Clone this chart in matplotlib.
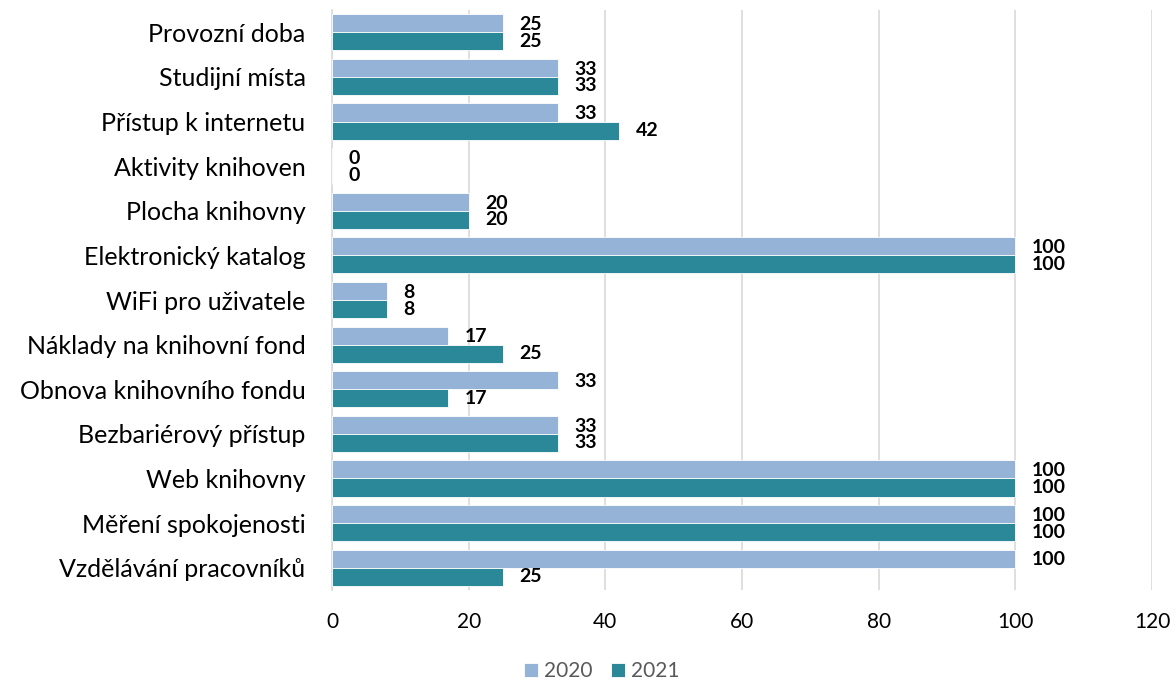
import matplotlib
matplotlib.use("Agg")
import matplotlib.pyplot as plt
import numpy as np

categories = ["Provozní doba", "Studijní místa", "Přístup k internetu", "Aktivity knihoven",
              "Plocha knihovny", "Elektronický katalog", "WiFi pro uživatele",
              "Náklady na knihovní fond", "Obnova knihovního fondu", "Bezbariérový přístup",
              "Web knihovny", "Měření spokojenosti", "Vzdělávání pracovníků"]
values_2020 = [25, 33, 33, 0, 20, 100, 8, 17, 33, 33, 100, 100, 100]
values_2021 = [25, 33, 42, 0, 20, 100, 8, 25, 17, 33, 100, 100, 25]
series_names = ["2020", "2021"]
xticks = [0, 20, 40, 60, 80, 100, 120]

plt.rcParams['font.family'] = ['Lato', 'DejaVu Sans']

fig = plt.figure(figsize=(11.76, 6.82), dpi=100)
ax = fig.add_axes([332/1176, 1-590/682, (1152-332)/1176, (590-10)/682])

y = np.arange(len(categories))
h = 0.405
c20 = "#95B3D7"
c21 = "#2A8899"
b1 = ax.barh(y - h/2, values_2020, height=h, color=c20, edgecolor="white", linewidth=0.6, label=series_names[0], zorder=3)
b2 = ax.barh(y + h/2, values_2021, height=h, color=c21, edgecolor="white", linewidth=0.6, label=series_names[1], zorder=3)

for yi, v in zip(y, values_2020):
    ax.annotate(str(v), (v, yi - h/2 + 0.03), xytext=(12, 0), textcoords="offset points",
                ha="left", va="center", fontsize=14, fontweight="bold", color="black")
for yi, v in zip(y, values_2021):
    ax.annotate(str(v), (v, yi + h/2), xytext=(12, 0), textcoords="offset points",
                ha="left", va="center", fontsize=14, fontweight="bold", color="black")

ax.set_xlim(0, 120)
ax.set_ylim(len(categories) - 0.5, -0.5)
ax.set_xticks(xticks)
ax.set_yticks(y)
ax.set_yticklabels(categories, fontsize=18)
ax.tick_params(axis="y", length=0, pad=19)
ax.tick_params(axis="x", length=0, pad=16, labelsize=15)
ax.grid(axis="x", color="#D9D9D9", linewidth=1.2, zorder=0)
for s in ["top", "right", "bottom"]:
    ax.spines[s].set_visible(False)
ax.spines["left"].set_color("#D9D9D9")
ax.spines["left"].set_linewidth(1.2)

fig.legend(handles=[b1, b2], labels=series_names, loc="center", bbox_to_anchor=(602/1176, 1-671/682),
           ncol=2, frameon=False, fontsize=15, labelcolor="#595959", borderpad=0,
           handlelength=0.65, handleheight=0.65, handletextpad=0.3, columnspacing=0.9)

fig.savefig("out.png", dpi=100)
